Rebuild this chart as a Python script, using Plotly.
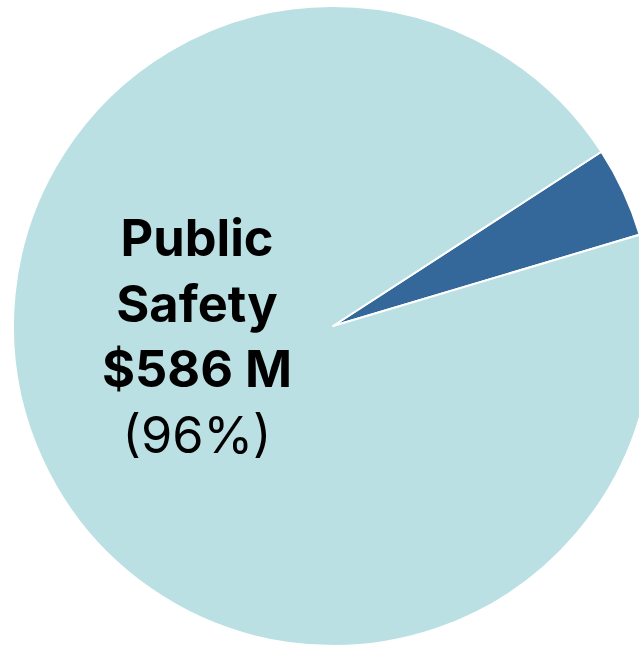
import plotly.graph_objects as go

categories = ["Other", "Public Safety"]
values_m = [28, 586]
display_pct = ["(4%)", "(96%)"]
colors = ["#34679A", "#BAE0E3"]

W, H = 666, 647

fig = go.Figure(
    go.Pie(
        labels=categories,
        values=values_m,
        sort=False,
        direction="clockwise",
        rotation=57,
        marker=dict(colors=colors, line=dict(color="white", width=2)),
        textinfo="none",
        hoverinfo="label+value",
        showlegend=False,
        domain=dict(x=[0, 1], y=[1 / H, 641 / H]),
    )
)

label_text = "<b>Public<br>Safety<br>$%d M</b><br>%s" % (values_m[1], display_pct[1])
fig.add_annotation(
    text=label_text,
    x=197 / W,
    y=1 - 336 / H,
    xref="paper",
    yref="paper",
    xanchor="center",
    yanchor="middle",
    showarrow=False,
    align="center",
    font=dict(family="Inter, Roboto, sans-serif", size=50.5, color="#000000"),
)

fig.update_layout(
    width=W,
    height=H,
    margin=dict(l=0, r=0, t=0, b=0),
    paper_bgcolor="white",
    plot_bgcolor="white",
)

fig.write_html(
    "out.html",
    config={"displayModeBar": False},
    post_script="document.body.style.margin='0';document.body.style.overflow='hidden';document.documentElement.style.overflow='hidden';",
)
